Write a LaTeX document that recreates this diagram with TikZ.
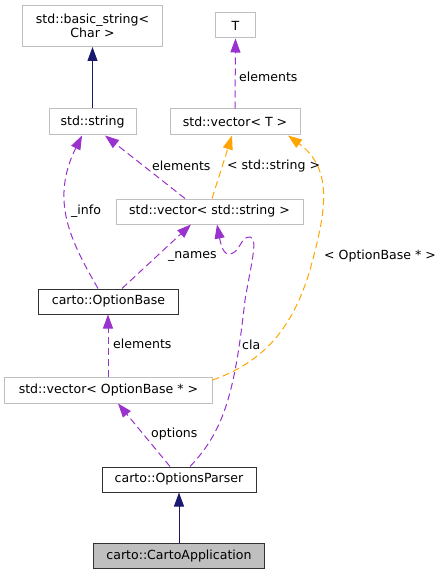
\documentclass[tikz,border=0pt]{standalone}
\usepackage{fontspec}
\setmainfont{DejaVu Sans}
\usetikzlibrary{arrows.meta}
\definecolor{navyc}{HTML}{191970}
\definecolor{purp}{HTML}{9A32CD}
\definecolor{orng}{HTML}{FFA500}
\definecolor{boxgray}{HTML}{BFBFBF}
\definecolor{fillgray}{HTML}{BFBFBF}
\tikzset{
  cls/.style={draw=boxgray, line width=1bp, rectangle, inner sep=0pt, align=center, font=\fontsize{12.6}{14.7}\selectfont},
  clsb/.style={cls, draw=black!80},
  inh/.style={draw=navyc, line width=1bp, -{Triangle[length=14bp,width=10bp]}, fill=navyc},
  usage/.style={draw=purp, line width=1bp, dash pattern=on 7bp off 4bp, -{Triangle[length=14bp,width=10bp,fill=purp]}},
  tmpl/.style={draw=orng, line width=1bp, dash pattern=on 7bp off 4bp, -{Triangle[length=14bp,width=10bp,fill=orng]}},
  lbl/.style={inner sep=0pt, anchor=west, font=\fontsize{12.6}{14.7}\selectfont},
}
\begin{document}
\begin{tikzpicture}[x=1bp,y=-1bp]
\useasboundingbox (0,0) rectangle (446,575);
\node[cls, minimum width=139bp, minimum height=41bp] (bs) at (92.5,26) {std::basic\_string\textless\\Char \textgreater};
\node[cls, minimum width=40bp, minimum height=25bp] (T) at (235.5,25.5) {T};
\node[cls, minimum width=87bp, minimum height=26bp] (str) at (92.5,122) {std::string};
\node[cls, minimum width=130bp, minimum height=26bp] (vT) at (235,122) {std::vector\textless{} T \textgreater};
\node[cls, minimum width=187bp, minimum height=25bp] (vs) at (209.5,211.5) {std::vector\textless{} std::string \textgreater};
\node[clsb, minimum width=139bp, minimum height=25bp] (ob) at (108.5,301.5) {carto::OptionBase};
\node[cls, minimum width=207bp, minimum height=26bp] (vob) at (108.5,390) {std::vector\textless{} OptionBase * \textgreater};
\node[clsb, minimum width=154bp, minimum height=25bp] (op) at (179,479.5) {carto::OptionsParser};
\node[clsb, fill=fillgray, minimum width=171bp, minimum height=25bp] (ca) at (179,556) {carto::CartoApplication};

% inheritance
\draw[inh] (str.north) -- (bs.south);
\draw[inh] (ca.north) -- (op.south);

% T -> vector<T>
\draw[usage] (vT.north) -- (T.south);
\node[lbl] (l1) at (239,77) {elements};

% vs -> string
\draw[usage] (vs.north -| 185,0) -- (str.south -| 105,0);
\node[lbl] (l2) at (152,166) {elements};

% vs -> vT template
\draw[tmpl] (vs.north -| 212,0) -- (vT.south -| 232,0);
\node[lbl] (l3) at (227,166) {\textless{} std::string \textgreater};

% OptionBase -> string (_info)
\draw[usage] (ob.north -| 98,0) .. controls (70,240) and (50,200) .. (str.south -| 82,0);
\node[lbl] (l4) at (71,211) {\_info};

% OptionBase -> vs (_names)
\draw[usage] (ob.north -| 122,0) -- (vs.south -| 191,0);
\node[lbl] (l5) at (168,256) {\_names};

% vob -> OptionBase
\draw[usage] (vob.north -| 108,0) -- (ob.south -| 108,0);
\node[lbl] (l6) at (113,344) {elements};

% OptionsParser -> vob
\draw[usage] (op.north -| 170,0) -- (vob.south -| 118,0);
\node[lbl] (l7) at (151,434) {options};

% OptionsParser -> vs (cla)
\draw[usage] (op.north -| 190,0) .. controls (225,430) and (235,390) .. (245,300)
  .. controls (252,260) and (258,238) .. (250,237)
  .. controls (240,236) and (240,255) .. (228,254)
  .. controls (222,253) and (220,240) .. (vs.south -| 217,0);
\node[lbl] (l8) at (242,345) {cla};

% vob -> vT template
\draw[tmpl] (vob.east |- 0,380) .. controls (270,360) and (295,320) .. (310,270)
  .. controls (325,215) and (335,170) .. (vT.south -| 288,0);
\node[lbl] (l9) at (324,256) {\textless{} OptionBase * \textgreater};
\end{tikzpicture}
\end{document}
